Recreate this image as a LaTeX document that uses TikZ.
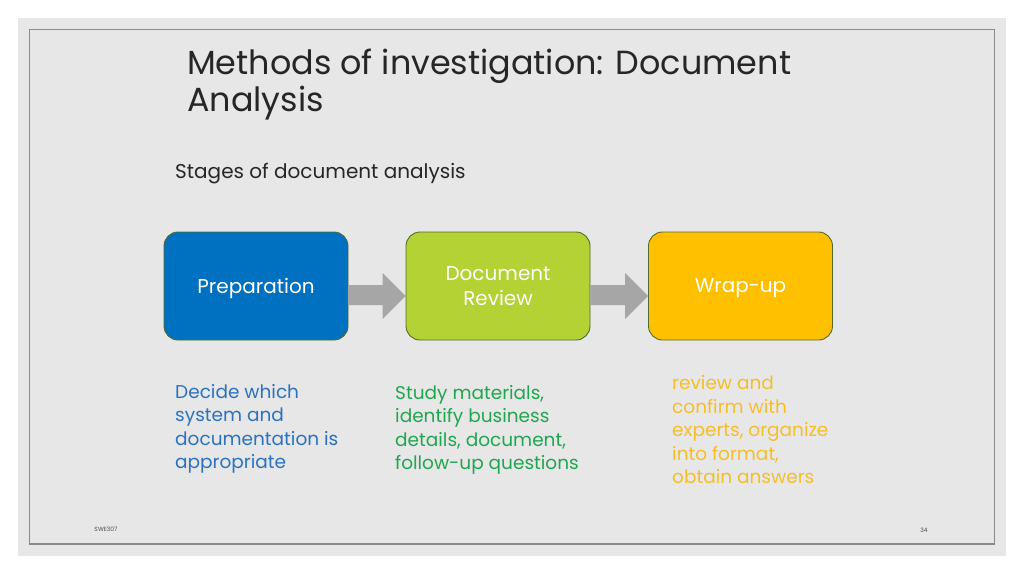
\documentclass[tikz,border=0pt]{standalone}
\usepackage{fontspec}
\setmainfont{Poppins}
\usetikzlibrary{calc}
\definecolor{slidegray}{HTML}{E7E7E7}
\definecolor{framegray}{HTML}{8A8A8A}
\definecolor{boxblue}{HTML}{0070C0}
\definecolor{boxgreen}{HTML}{B4D234}
\definecolor{boxyellow}{HTML}{FFC000}
\definecolor{boxline}{HTML}{526B2C}
\definecolor{txtblue}{HTML}{2A72C0}
\definecolor{txtgreen}{HTML}{1FA64F}
\definecolor{txtorange}{HTML}{F5BE28}
\definecolor{arrowgray}{HTML}{A6A6A6}
\definecolor{titleblack}{HTML}{262626}
\begin{document}
\begin{tikzpicture}[x=1pt,y=-1pt,
  stagebox/.style={draw=boxline,line width=0.9pt,rounded corners=14pt,minimum width=184pt,minimum height=108pt,text=white,align=center,font=\fontsize{20}{25.5}\selectfont},
  oneline/.style={text depth=0pt},
  bodytext/.style={anchor=north west,inner sep=0pt,align=left,font=\fontsize{18.5}{23.5}\selectfont},
  flowarrow/.style={fill=arrowgray}]
\useasboundingbox (0,0) rectangle (1024,574);
\fill[white] (0,0) rectangle (1024,574);
\fill[slidegray] (18,18) rectangle (1006,556);
\draw[framegray,line width=1.2pt] (29.5,29.5) rectangle (994.5,544);
\node[anchor=north west,inner sep=0pt,align=left,text=titleblack,font=\fontsize{33.4}{37}\selectfont] (title) at (187,48.5) {Methods of investigation: Document\\Analysis};
\node[anchor=north west,inner sep=0pt,text=titleblack,font=\fontsize{20}{24}\selectfont] (sub) at (175,163) {Stages of document analysis};
\node[stagebox,oneline,fill=boxblue] (prep) at (256,286) {Preparation};
\node[stagebox,fill=boxgreen] (rev) at (498,286) {Document\\Review};
\node[stagebox,oneline,fill=boxyellow] (wrap) at (740.5,286) {Wrap-up};
\fill[flowarrow] ($(prep.east)+(0,-1)$) -- ($(rev.west)+(-23,-1)$) -- ($(rev.west)+(-23,-13)$) -- ($(rev.west)+(0,10)$) -- ($(rev.west)+(-23,33)$) -- ($(rev.west)+(-23,19)$) -- ($(prep.east)+(0,19)$) -- cycle;
\fill[flowarrow] ($(rev.east)+(0,-1)$) -- ($(wrap.west)+(-23,-1)$) -- ($(wrap.west)+(-23,-13)$) -- ($(wrap.west)+(0,10)$) -- ($(wrap.west)+(-23,33)$) -- ($(wrap.west)+(-23,19)$) -- ($(rev.east)+(0,19)$) -- cycle;
\node[bodytext,text=txtblue] (prept) at (175,384) {Decide which\\system and\\documentation is\\appropriate};
\node[bodytext,text=txtgreen] (revt) at (395,385) {Study materials,\\identify business\\details, document,\\follow-up questions};
\node[bodytext,text=txtorange] (wrapt) at (672,375.5) {review and\\confirm with\\experts, organize\\into format,\\obtain answers};
\node[inner sep=0pt,text=black!70,font=\fontsize{6}{7}\selectfont] (foot) at (106,529) {SWE307};
\node[inner sep=0pt,text=black!70,font=\fontsize{6}{7}\selectfont] (page) at (924,530) {34};
\end{tikzpicture}
\end{document}
